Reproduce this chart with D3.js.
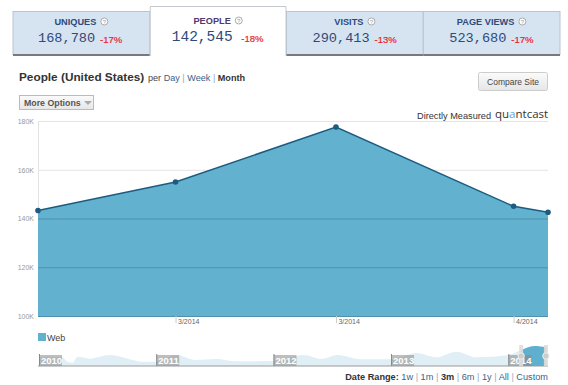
<!DOCTYPE html>
<html>
<head>
<meta charset="utf-8">
<style>
  html, body { margin: 0; padding: 0; background: #fff; }
  svg { display: block; }
  text { font-family: "Liberation Sans", Arial, sans-serif; }
  .num { font-family: "Liberation Mono", monospace; fill: #2f4a78; }
  .pct { font-size: 9.5px; fill: #e8232a; stroke: #e8232a; stroke-width: 0.2px; }
  .link { fill: #3c5f8a; }
  .sep { fill: #9ab; }
  .ax text { font-size: 7px; fill: #999; }
</style>
</head>
<body>
<script src="https://cdn.jsdelivr.net/npm/d3@7"></script>
<script>
// tabs
var tabNames = ['UNIQUES', 'PEOPLE', 'VISITS', 'PAGE VIEWS']
var tabValues = ['168,780', '142,545', '290,413', '523,680']
var tabChanges = ['-17%', '-18%', '-13%', '-17%']

// main chart
var dates = ['2014-01-08', '2014-02-01', '2014-03-01', '2014-04-01', '2014-04-07']
var people = [143300, 155000, 177500, 145000, 142545]
var yTicks = [100000, 120000, 140000, 160000, 180000]
var xTickDates = ['2014-02-01', '2014-03-01', '2014-04-01']
var xTickLabels = ['3/2014', '3/2014', '4/2014']

// overview chart
var overviewDates = ['2010-01-01', '2010-03-13', '2010-04-01', '2010-04-16', '2010-05-01', '2010-06-08', '2010-08-09',
  '2010-10-01', '2010-11-20', '2011-01-01', '2011-03-04', '2011-05-04', '2011-07-06', '2011-09-06', '2012-01-01',
  '2012-03-12', '2012-04-05', '2012-05-29', '2012-07-18', '2012-10-01', '2013-01-01', '2013-03-22', '2013-05-22',
  '2013-07-23', '2013-09-24', '2014-01-01', '2014-02-10', '2014-03-22', '2014-05-04']
var overviewPeople = [80000, 80000, 35000, 29000, 82000, 65000, 97000,
  67000, 38000, 38000, 97000, 53000, 62000, 42000, 44000,
  88000, 97000, 62000, 97000, 59000, 59000, 115000, 77000,
  127000, 77000, 97000, 142000, 177000, 162000]
var years = ['2010', '2011', '2012', '2013', '2014']
var selection = ['2014-02-10', '2014-04-28']

var parse = d3.utcParse('%Y-%m-%d')

var width = 568
var height = 385

var svg = d3.select('body').append('svg')
  .attr('width', width)
  .attr('height', height)

var defs = svg.append('defs')
var grad = defs.append('linearGradient')
  .attr('id', 'btn')
  .attr('x1', 0).attr('x2', 0).attr('y1', 0).attr('y2', 1)
grad.append('stop').attr('offset', 0).attr('stop-color', '#fbfbfb')
grad.append('stop').attr('offset', 1).attr('stop-color', '#e6e6e6')

/*
    --------------------------------------
    Tabs
*/
var tabX = d3.scaleBand().domain(tabNames).range([13, 560])
var tabs = svg.selectAll('.tab')
  .data(tabNames)
  .enter()
  .append('g')
  .classed('tab', true)
  .attr('transform', d => `translate(${tabX(d)},0)`)

tabs.filter(d => d !== 'PEOPLE').append('rect')
  .attr('y', 11.5)
  .attr('width', tabX.bandwidth())
  .attr('height', 43)
  .attr('fill', '#d6e4f2')
  .attr('stroke', '#b9c4cf')

tabs.filter(d => d !== 'PEOPLE').append('rect')
  .attr('y', 54)
  .attr('width', tabX.bandwidth())
  .attr('height', 2)
  .attr('fill', '#77797c')

tabs.filter(d => d === 'PEOPLE').append('path')
  .attr('d', `M0.5,56V6.5H${tabX.bandwidth() - 0.5}V56`)
  .attr('fill', '#fff')
  .attr('stroke', '#c4c8cc')

tabs.append('text')
  .attr('x', tabX.bandwidth() / 2 - 6)
  .attr('y', d => d === 'PEOPLE' ? 24 : 25)
  .attr('text-anchor', 'middle')
  .attr('font-size', 9.2)
  .attr('font-weight', 'bold')
  .attr('fill', d => d === 'PEOPLE' ? '#51386f' : '#2f4a78')
  .text(d => d)

tabs.each(function () {
  var g = d3.select(this)
  var b = g.select('text').node().getBBox()
  var cy = b.y + b.height / 2 - 0.5
  g.append('circle')
    .attr('cx', b.x + b.width + 8)
    .attr('cy', cy)
    .attr('r', 3.5)
    .attr('fill', '#fff')
    .attr('stroke', '#aaa')
  g.append('text')
    .attr('x', b.x + b.width + 8)
    .attr('y', cy + 2.3)
    .attr('text-anchor', 'middle')
    .attr('font-size', 6)
    .attr('fill', '#999')
    .text('?')
})

tabs.append('text')
  .classed('num', true)
  .attr('x', (d, i) => i === 0 ? 25 : i === 1 ? 22 : 26)
  .attr('y', (d, i) => i === 1 ? 41 : 42)
  .style('font-size', (d, i) => i === 1 ? '14.5px' : '13.6px')
  .text((d, i) => tabValues[i])

tabs.append('text')
  .classed('pct', true)
  .attr('x', (d, i) => i === 1 ? 91.5 : i === 0 ? 87 : 88)
  .attr('y', (d, i) => i === 1 ? 41.5 : 42.5)
  .text((d, i) => tabChanges[i])

/*
    --------------------------------------
    Title and buttons
*/
svg.append('text')
  .attr('x', 19)
  .attr('y', 80.5)
  .attr('font-size', 11.8)
  .attr('font-weight', 'bold')
  .attr('fill', '#333')
  .text('People (United States)')

var per = svg.append('text')
  .attr('x', 148)
  .attr('y', 80.5)
  .attr('font-size', 9.1)
per.append('tspan').attr('fill', '#444').text('per ')
per.append('tspan').classed('link', true).text('Day')
per.append('tspan').classed('sep', true).text(' | ')
per.append('tspan').classed('link', true).text('Week')
per.append('tspan').classed('sep', true).text(' | ')
per.append('tspan').attr('fill', '#333').attr('font-weight', 'bold').text('Month')

svg.append('rect')
  .attr('x', 19.5).attr('y', 95.5)
  .attr('width', 74).attr('height', 14)
  .attr('fill', 'url(#btn)')
  .attr('stroke', '#bbb')
svg.append('text')
  .attr('x', 24).attr('y', 106)
  .attr('font-size', 8.8)
  .attr('font-weight', 'bold')
  .attr('fill', '#555')
  .text('More Options')
svg.append('path')
  .attr('d', 'M84,101h8l-4,4z')
  .attr('fill', '#aaa')

svg.append('rect')
  .attr('x', 478.5).attr('y', 72.5)
  .attr('width', 69).attr('height', 18)
  .attr('rx', 2)
  .attr('fill', 'url(#btn)')
  .attr('stroke', '#ccc')
svg.append('text')
  .attr('x', 513).attr('y', 85)
  .attr('text-anchor', 'middle')
  .attr('font-size', 8.5)
  .attr('fill', '#444')
  .text('Compare Site')

svg.append('text')
  .attr('x', 417).attr('y', 119)
  .attr('font-size', 9.2)
  .attr('fill', '#333')
  .text('Directly Measured')
var brand = svg.append('text')
  .attr('x', 495).attr('y', 118)
  .attr('font-size', 11.5)
  .attr('fill', '#333')
  .style('font-family', '"Open Sans", sans-serif')
brand.append('tspan').text('qu')
brand.append('tspan').attr('fill', '#5aa6d6').text('a')
brand.append('tspan').text('ntcast')

/*
    --------------------------------------
    Main chart
*/
var data = dates.map((d, i) => ({date: parse(d), value: people[i]}))

var mapx = d3.scaleUtc()
  .domain(d3.extent(data, d => d.date))
  .range([38, 548])

var mapy = d3.scaleLinear()
  .domain([100000, 180000])
  .range([316, 121])

var area = d3.area()
  .x(d => mapx(d.date))
  .y0(mapy(100000))
  .y1(d => mapy(d.value))

var line = d3.line()
  .x(d => mapx(d.date))
  .y(d => mapy(d.value))

// grid under the area, then again on top of it in a darker tone
var yAxis = d3.axisLeft(mapy)
  .tickValues(yTicks)
  .tickSize(0)
  .tickPadding(4)
  .tickFormat(d => (d / 1000) + 'K')

svg.append('g')
  .classed('ax y', true)
  .attr('transform', 'translate(38,0)')
  .call(yAxis)
  .call(g => g.select('.domain').attr('stroke', '#e2e2e2'))

svg.append('g')
  .selectAll('line')
  .data(yTicks.slice(1))
  .enter()
  .append('line')
  .attr('x1', 38).attr('x2', 548)
  .attr('y1', d => mapy(d) + 0.5).attr('y2', d => mapy(d) + 0.5)
  .attr('stroke', '#e4e4e4')

svg.append('path')
  .attr('d', area(data))
  .attr('fill', '#62b1cf')

svg.append('g')
  .selectAll('line')
  .data(yTicks.filter(d => d < 145000))
  .enter()
  .append('line')
  .attr('x1', 38).attr('x2', 548)
  .attr('y1', d => mapy(d) + 0.5).attr('y2', d => mapy(d) + 0.5)
  .attr('stroke', '#4f92ad')

svg.append('path')
  .attr('d', line(data))
  .attr('fill', 'none')
  .attr('stroke', '#1d5c80')
  .attr('stroke-width', 1.5)

svg.selectAll('.dot')
  .data(data)
  .enter()
  .append('circle')
  .classed('dot', true)
  .attr('cx', d => mapx(d.date))
  .attr('cy', d => mapy(d.value))
  .attr('r', 2.8)
  .attr('fill', '#1d5c80')

var xAxis = d3.axisBottom(mapx)
  .tickValues(xTickDates.map(parse))
  .tickSize(7)
  .tickFormat((d, i) => xTickLabels[i])

svg.append('g')
  .classed('ax x', true)
  .attr('transform', 'translate(0,316)')
  .call(xAxis)
  .call(g => g.select('.domain').remove())
  .call(g => g.selectAll('line').attr('stroke', '#ccc'))
  .call(g => g.selectAll('text')
    .attr('text-anchor', 'start')
    .attr('x', 2)
    .attr('y', 3)
    .attr('dy', '0.71em')
    .style('font-size', '7px')
    .style('fill', '#666'))

/*
    --------------------------------------
    Legend
*/
svg.append('rect')
  .attr('x', 38).attr('y', 333)
  .attr('width', 8).attr('height', 8)
  .attr('fill', '#62b1cf')
svg.append('text')
  .attr('x', 47).attr('y', 340.5)
  .attr('font-size', 9)
  .attr('fill', '#444')
  .text('Web')

/*
    --------------------------------------
    Overview chart
*/
var overview = overviewDates.map((d, i) => ({date: parse(d), value: overviewPeople[i]}))

var mapOx = d3.scaleUtc()
  .domain([parse('2010-01-01'), parse('2014-01-01')])
  .range([39, 508.3])

var mapOy = d3.scaleLinear()
  .domain([0, 177000])
  .range([366, 346])

var oArea = d3.area()
  .x(d => mapOx(d.date))
  .y0(366)
  .y1(d => mapOy(d.value))
  .curve(d3.curveMonotoneX)

var selRange = selection.map(d => mapOx(parse(d)))

svg.append('path')
  .attr('d', oArea(overview))
  .attr('fill', '#e0eff5')

defs.append('clipPath')
  .attr('id', 'sel')
  .append('rect')
  .attr('x', selRange[0])
  .attr('y', 340)
  .attr('width', selRange[1] - selRange[0])
  .attr('height', 26)

svg.append('path')
  .attr('d', oArea(overview))
  .attr('fill', '#5fb0cf')
  .attr('clip-path', 'url(#sel)')

var yearG = svg.selectAll('.year')
  .data(years)
  .enter()
  .append('g')
  .classed('year', true)
  .attr('transform', d => `translate(${mapOx(parse(d + '-01-01'))},0)`)

yearG.append('rect')
  .attr('y', 355)
  .attr('width', 23)
  .attr('height', 11)
  .attr('fill', '#888')
  .attr('opacity', 0.55)

yearG.append('line')
  .attr('x1', 0.5).attr('x2', 0.5)
  .attr('y1', 354).attr('y2', 366)
  .attr('stroke', '#888')

yearG.append('text')
  .attr('x', 2)
  .attr('y', 364)
  .attr('font-size', 9.5)
  .attr('font-weight', 'bold')
  .attr('fill', '#fff')
  .text(d => d)

svg.append('line')
  .attr('x1', 38).attr('x2', 548)
  .attr('y1', 366).attr('y2', 366)
  .attr('stroke', '#999')

// range handles
var handles = svg.selectAll('.handle')
  .data(selRange)
  .enter()
  .append('g')
  .classed('handle', true)
  .attr('transform', d => `translate(${d},0)`)

handles.append('rect')
  .attr('x', -2).attr('y', 345)
  .attr('width', 4).attr('height', 21)
  .attr('fill', '#ddd')
  .attr('opacity', 0.9)

handles.append('circle')
  .attr('cy', 356)
  .attr('r', 3.2)
  .attr('fill', '#ccc')
  .attr('stroke', '#eee')

/*
    --------------------------------------
    Date range
*/
var range = svg.append('text')
  .attr('x', 548)
  .attr('y', 379.5)
  .attr('text-anchor', 'end')
  .attr('font-size', 9.2)
range.append('tspan').attr('fill', '#333').attr('font-weight', 'bold').text('Date Range:  ')
;['1w', '1m', '3m', '6m', '1y', 'All', 'Custom'].forEach(function (d, i, all) {
  range.append('tspan')
    .attr('class', d === '3m' ? null : 'link')
    .attr('fill', d === '3m' ? '#333' : null)
    .attr('font-weight', d === '3m' ? 'bold' : null)
    .text(d)
  if (i < all.length - 1) range.append('tspan').classed('sep', true).text(' | ')
})
</script>
</body>
</html>
